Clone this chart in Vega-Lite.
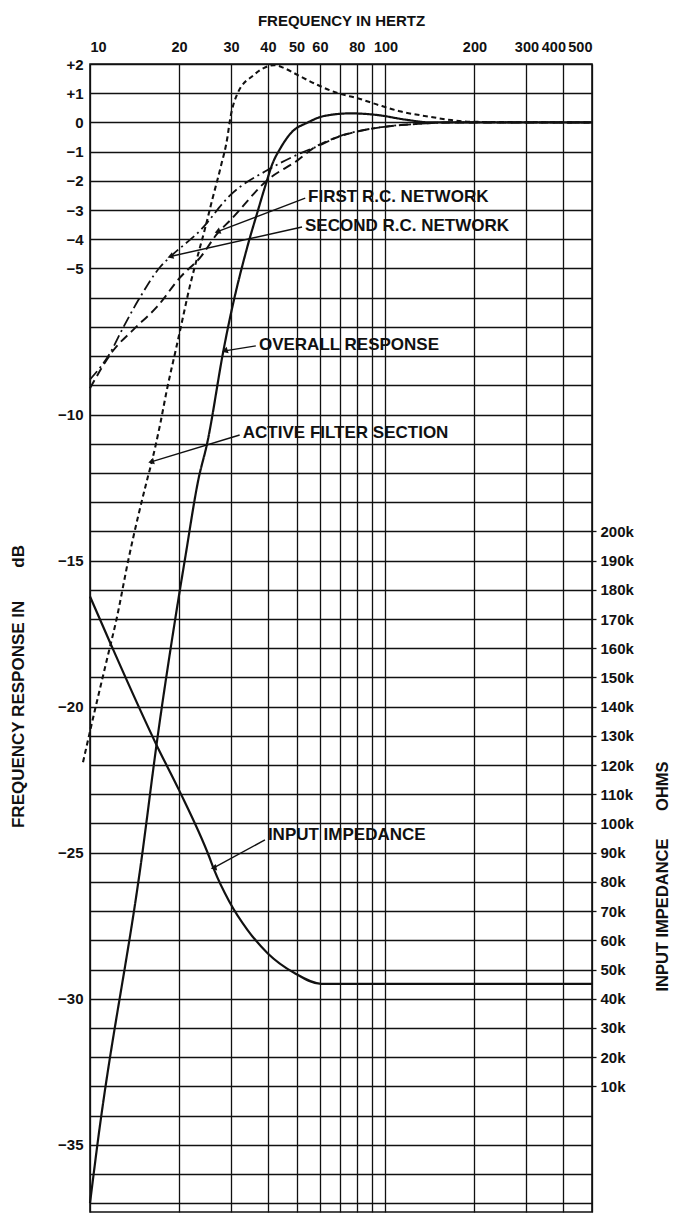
{
  "$schema": "https://vega.github.io/schema/vega-lite/v6.json",
  "autosize": {"type": "none"},
  "padding": {"left": 90, "top": 64, "right": 86, "bottom": 2},
  "width": 502,
  "height": 1148,
  "background": "white",
  "config": {
    "view": {"stroke": "#111", "strokeWidth": 1.6},
    "font": "Liberation Sans",
    "axis": {"labelFont": "Liberation Sans", "titleFont": "Liberation Sans", "labelColor": "#111", "titleColor": "#111", "titleFontWeight": "bold", "labelFontWeight": "bold", "domain": false}
  },
  "datasets": {
    "curves": [
      {"s": "Overall response", "f": 10, "db": -37.0},
      {"s": "Overall response", "f": 10.56, "db": -35.1},
      {"s": "Overall response", "f": 15, "db": -25.1},
      {"s": "Overall response", "f": 16.9, "db": -21.1},
      {"s": "Overall response", "f": 19.5, "db": -16.9},
      {"s": "Overall response", "f": 21, "db": -14.9},
      {"s": "Overall response", "f": 23.3, "db": -12.2},
      {"s": "Overall response", "f": 24.9, "db": -11.0},
      {"s": "Overall response", "f": 28.3, "db": -7.8},
      {"s": "Overall response", "f": 29.2, "db": -7.1},
      {"s": "Overall response", "f": 34.1, "db": -4.25},
      {"s": "Overall response", "f": 36.8, "db": -3.1},
      {"s": "Overall response", "f": 39.4, "db": -2.1},
      {"s": "Overall response", "f": 41.5, "db": -1.4},
      {"s": "Overall response", "f": 44, "db": -0.9},
      {"s": "Overall response", "f": 47.9, "db": -0.36},
      {"s": "Overall response", "f": 54.6, "db": 0},
      {"s": "Overall response", "f": 62, "db": 0.22},
      {"s": "Overall response", "f": 76.5, "db": 0.31},
      {"s": "Overall response", "f": 94.5, "db": 0.25},
      {"s": "Overall response", "f": 116, "db": 0.1},
      {"s": "Overall response", "f": 143, "db": 0},
      {"s": "Overall response", "f": 500, "db": 0},

      {"s": "Active filter section", "f": 9.47, "db": -21.9},
      {"s": "Active filter section", "f": 10.4, "db": -20.1},
      {"s": "Active filter section", "f": 11.4, "db": -18.4},
      {"s": "Active filter section", "f": 12.3, "db": -17.0},
      {"s": "Active filter section", "f": 13.5, "db": -14.95},
      {"s": "Active filter section", "f": 15.6, "db": -12.24},
      {"s": "Active filter section", "f": 16.2, "db": -11.6},
      {"s": "Active filter section", "f": 17.3, "db": -10.3},
      {"s": "Active filter section", "f": 18.2, "db": -9.16},
      {"s": "Active filter section", "f": 19.5, "db": -7.8},
      {"s": "Active filter section", "f": 20.2, "db": -7.1},
      {"s": "Active filter section", "f": 21.9, "db": -5.5},
      {"s": "Active filter section", "f": 23.1, "db": -4.6},
      {"s": "Active filter section", "f": 24.6, "db": -3.57},
      {"s": "Active filter section", "f": 25.9, "db": -2.66},
      {"s": "Active filter section", "f": 27.7, "db": -1.52},
      {"s": "Active filter section", "f": 29.2, "db": -0.49},
      {"s": "Active filter section", "f": 29.7, "db": 0.02},
      {"s": "Active filter section", "f": 31.6, "db": 1.0},
      {"s": "Active filter section", "f": 35.8, "db": 1.62},
      {"s": "Active filter section", "f": 38.7, "db": 1.86},
      {"s": "Active filter section", "f": 42, "db": 1.96},
      {"s": "Active filter section", "f": 45.4, "db": 1.86},
      {"s": "Active filter section", "f": 50.5, "db": 1.62},
      {"s": "Active filter section", "f": 59, "db": 1.28},
      {"s": "Active filter section", "f": 69, "db": 1.0},
      {"s": "Active filter section", "f": 81, "db": 0.82},
      {"s": "Active filter section", "f": 94.5, "db": 0.6},
      {"s": "Active filter section", "f": 113, "db": 0.37},
      {"s": "Active filter section", "f": 140, "db": 0.2},
      {"s": "Active filter section", "f": 167, "db": 0.08},
      {"s": "Active filter section", "f": 196, "db": 0.02},
      {"s": "Active filter section", "f": 500, "db": 0},

      {"s": "First R.C. network", "f": 10, "db": -9.1},
      {"s": "First R.C. network", "f": 12, "db": -7.8},
      {"s": "First R.C. network", "f": 14, "db": -7.1},
      {"s": "First R.C. network", "f": 16.9, "db": -6.3},
      {"s": "First R.C. network", "f": 20.2, "db": -5.3},
      {"s": "First R.C. network", "f": 23.7, "db": -4.6},
      {"s": "First R.C. network", "f": 27, "db": -3.8},
      {"s": "First R.C. network", "f": 29.9, "db": -3.34},
      {"s": "First R.C. network", "f": 39.9, "db": -1.97},
      {"s": "First R.C. network", "f": 50.5, "db": -1.29},
      {"s": "First R.C. network", "f": 57, "db": -0.88},
      {"s": "First R.C. network", "f": 69, "db": -0.5},
      {"s": "First R.C. network", "f": 84.6, "db": -0.26},
      {"s": "First R.C. network", "f": 105, "db": -0.12},
      {"s": "First R.C. network", "f": 129, "db": -0.05},
      {"s": "First R.C. network", "f": 167, "db": 0},
      {"s": "First R.C. network", "f": 500, "db": 0},

      {"s": "Second R.C. network", "f": 10, "db": -8.8},
      {"s": "Second R.C. network", "f": 11.7, "db": -7.89},
      {"s": "Second R.C. network", "f": 13, "db": -6.99},
      {"s": "Second R.C. network", "f": 14.8, "db": -5.97},
      {"s": "Second R.C. network", "f": 17.3, "db": -4.94},
      {"s": "Second R.C. network", "f": 18.7, "db": -4.6},
      {"s": "Second R.C. network", "f": 23.7, "db": -3.68},
      {"s": "Second R.C. network", "f": 29.9, "db": -2.48},
      {"s": "Second R.C. network", "f": 39.9, "db": -1.63},
      {"s": "Second R.C. network", "f": 51.7, "db": -1.05},
      {"s": "Second R.C. network", "f": 60, "db": -0.78},
      {"s": "Second R.C. network", "f": 69, "db": -0.49},
      {"s": "Second R.C. network", "f": 84.6, "db": -0.26},
      {"s": "Second R.C. network", "f": 105, "db": -0.12},
      {"s": "Second R.C. network", "f": 129, "db": -0.05},
      {"s": "Second R.C. network", "f": 167, "db": 0},
      {"s": "Second R.C. network", "f": 500, "db": 0}
    ],
    "impedance": [
      {"f": 10, "k": 177.7},
      {"f": 11.85, "k": 160.6},
      {"f": 16.9, "k": 126.3},
      {"f": 20, "k": 111.5},
      {"f": 25.3, "k": 88.7},
      {"f": 26.3, "k": 84.2},
      {"f": 29.6, "k": 73.3},
      {"f": 34.1, "k": 63.6},
      {"f": 39.9, "k": 55.6},
      {"f": 49.2, "k": 48.8},
      {"f": 60.6, "k": 45.1},
      {"f": 500, "k": 45.1}
    ],
    "labels": [
      {"label": "FIRST R.C. NETWORK", "f": 54.7, "db": -2.55},
      {"label": "SECOND R.C. NETWORK", "f": 53.4, "db": -3.55},
      {"label": "OVERALL RESPONSE", "f": 37.3, "db": -7.62},
      {"label": "ACTIVE FILTER SECTION", "f": 32.9, "db": -10.63},
      {"label": "INPUT IMPEDANCE", "f": 40.0, "db": -24.39}
    ],
    "arrows": [
      {"label": "FIRST R.C. NETWORK", "f": 27.0, "db": -3.74, "fs": 53.5, "dbs": -2.59},
      {"label": "SECOND R.C. NETWORK", "f": 18.7, "db": -4.59, "fs": 52.2, "dbs": -3.58},
      {"label": "OVERALL RESPONSE", "f": 28.6, "db": -7.82, "fs": 36.4, "dbs": -7.65},
      {"label": "ACTIVE FILTER SECTION", "f": 16.1, "db": -11.62, "fs": 32.1, "dbs": -10.7},
      {"label": "INPUT IMPEDANCE", "f": 26.2, "db": -25.52, "fs": 39.1, "dbs": -24.56}
    ]
  },
  "resolve": {"scale": {"y": "independent"}},
  "layer": [
    {
      "encoding": {
        "x": {
          "field": "f", "type": "quantitative", "title": "FREQUENCY IN HERTZ",
          "scale": {"type": "log", "domain": [10, 500]},
          "axis": {
            "orient": "top",
            "values": [10, 20, 30, 40, 50, 60, 70, 80, 90, 100, 200, 300, 400, 500],
            "labelExpr": "datum.value == 70 || datum.value == 90 ? '' : '' + datum.value",
            "labelOverlap": false, "labelFlush": true, "labelPadding": 10,
            "labelOffset": {"condition": {"test": "datum.value == 400", "value": -10}, "value": 0},
            "ticks": false, "tickSize": 0,
            "grid": true, "gridColor": "#111", "gridWidth": 1.3,
            "labelFontSize": 14.5, "titleFontSize": 15,
            "titleY": -44, "titleBaseline": "middle"
          }
        },
        "y": {
          "field": "db", "type": "quantitative",
          "title": "FREQUENCY RESPONSE IN\u00a0\u00a0\u00a0\u00a0\u00a0\u00a0\u00a0dB",
          "scale": {"domain": [-37.3, 2], "nice": false, "zero": false},
          "axis": {
            "orient": "left",
            "values": [2, 1, 0, -1, -2, -3, -4, -5, -6, -7, -8, -9, -10, -11, -12, -13, -14, -15, -16, -17, -18, -19, -20, -21, -22, -23, -24, -25, -26, -27, -28, -29, -30, -31, -32, -33, -34, -35, -36, -37],
            "labelExpr": "indexof([2,1,0,-1,-2,-3,-4,-5,-10,-15,-20,-25,-30,-35], datum.value) < 0 ? '' : (datum.value > 0 ? '+' + datum.value : (datum.value < 0 ? '\u2212' + abs(datum.value) : '0'))",
            "labelOverlap": false, "labelPadding": 7,
            "ticks": false, "tickSize": 0,
            "grid": true, "gridColor": "#111", "gridWidth": 1.3,
            "labelFontSize": 15, "titleFontSize": 17,
            "titleX": -72, "titleY": 622, "titleAngle": 270, "titleAlign": "center", "titleBaseline": "middle"
          }
        }
      },
      "layer": [
        {
          "data": {"name": "curves"},
          "mark": {"type": "line", "interpolate": "monotone", "color": "#111"},
          "encoding": {
            "detail": {"field": "s", "type": "nominal"},
            "strokeDash": {"field": "s", "type": "nominal", "legend": null,
              "scale": {"domain": ["Overall response", "Active filter section", "First R.C. network", "Second R.C. network"],
                        "range": [[1, 0], [5, 3.5], [9, 5], [11, 4, 2, 4]]}},
            "strokeWidth": {"field": "s", "type": "nominal", "legend": null,
              "scale": {"domain": ["Overall response", "Active filter section", "First R.C. network", "Second R.C. network"],
                        "range": [2.2, 1.8, 2, 2]}}
          }
        },
        {
          "data": {"name": "arrows"},
          "mark": {"type": "rule", "color": "#111", "strokeWidth": 1.4},
          "encoding": {
            "x2": {"field": "fs"},
            "y2": {"field": "dbs"}
          }
        },
        {
          "data": {"name": "arrows"},
          "mark": {"type": "point", "shape": "triangle-up", "filled": true, "color": "#111", "size": 45, "opacity": 1},
          "encoding": {
            "angle": {"field": "label", "type": "nominal", "legend": null,
              "scale": {"domain": ["FIRST R.C. NETWORK", "SECOND R.C. NETWORK", "OVERALL RESPONSE", "ACTIVE FILTER SECTION", "INPUT IMPEDANCE"],
                        "range": [248, 257, 260, 252.5, 241]}}
          }
        },
        {
          "data": {"name": "labels"},
          "mark": {"type": "text", "align": "left", "baseline": "middle", "font": "Liberation Sans", "fontSize": 17, "fontWeight": "bold", "color": "#111"},
          "encoding": {
            "text": {"field": "label", "type": "nominal"}
          }
        }
      ]
    },
    {
      "data": {"name": "impedance"},
      "mark": {"type": "line", "interpolate": "monotone", "color": "#111", "strokeWidth": 2.2},
      "encoding": {
        "x": {
          "field": "f", "type": "quantitative", "title": "FREQUENCY IN HERTZ",
          "scale": {"type": "log", "domain": [10, 500]}
        },
        "y": {
          "field": "k", "type": "quantitative",
          "title": "INPUT IMPEDANCE\u00a0\u00a0\u00a0\u00a0\u00a0\u00a0OHMS",
          "scale": {"domain": [-33, 360], "nice": false, "zero": false},
          "axis": {
            "orient": "right",
            "values": [10, 20, 30, 40, 50, 60, 70, 80, 90, 100, 110, 120, 130, 140, 150, 160, 170, 180, 190, 200],
            "labelExpr": "datum.value + 'k'",
            "labelOverlap": false,
            "grid": false, "ticks": true, "tickSize": 4, "tickColor": "#111", "tickWidth": 1.3,
            "labelPadding": 4, "labelFontSize": 15, "titleFontSize": 16.5,
            "titleX": 70, "titleY": 812, "titleAngle": 270, "titleAlign": "center", "titleBaseline": "middle"
          }
        }
      }
    }
  ]
}
